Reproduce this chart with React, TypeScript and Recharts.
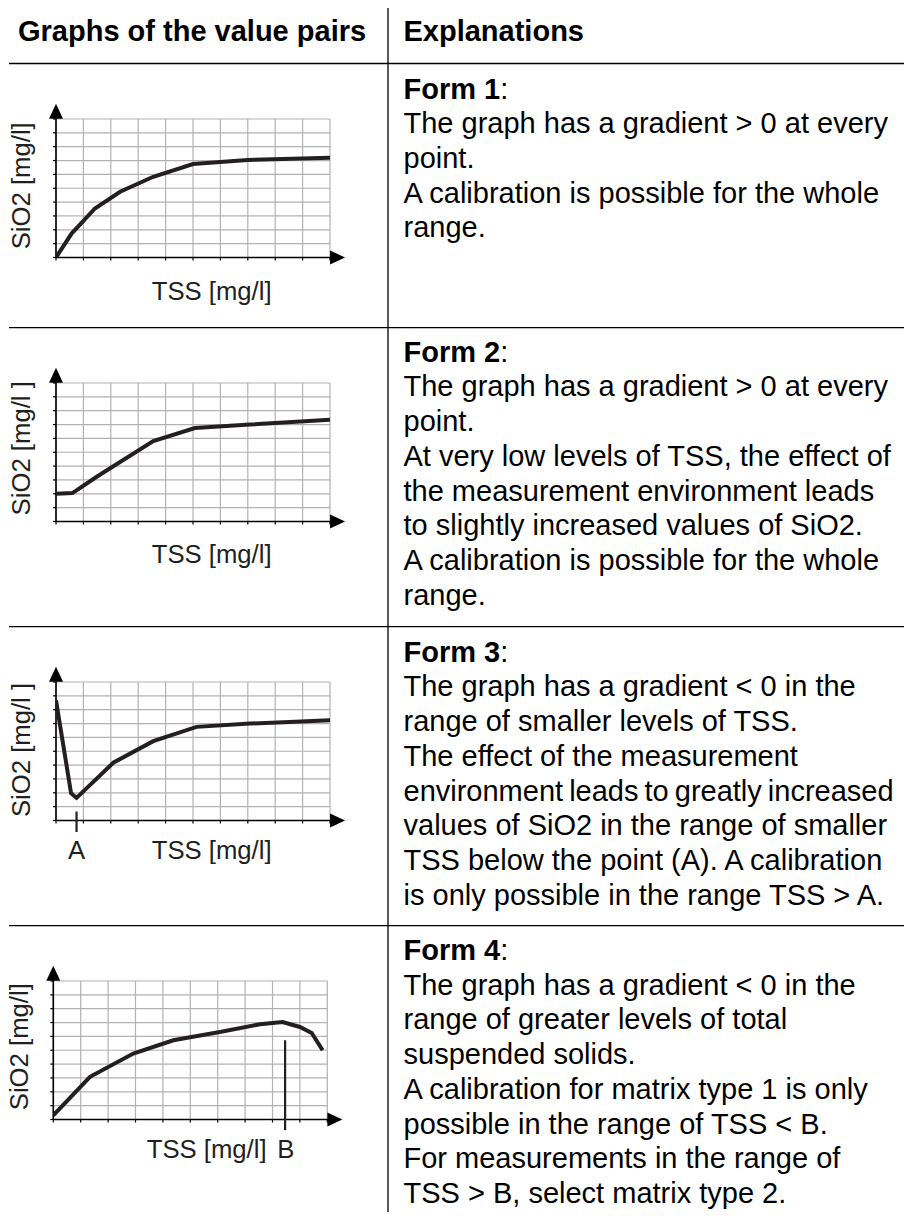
import React from 'react';
import { LineChart, Line, XAxis, YAxis, CartesianGrid, ReferenceLine } from 'recharts';

const FONT = '"Liberation Sans", Arial, Helvetica, sans-serif';

// grid ticks (0..10 units on both axes)
const gridTicks = [0, 1, 2, 3, 4, 5, 6, 7, 8, 9, 10];

// Form 1
const form1Tss = [0, 0.57, 1.42, 2.34, 3.55, 5.0, 7.0, 10];
const form1SiO2 = [0, 1.73, 3.54, 4.75, 5.83, 6.75, 7.04, 7.2];
// Form 2
const form2Tss = [0, 0.6, 1.5, 3.55, 5.07, 7.08, 10];
const form2SiO2 = [2.0, 2.05, 3.25, 5.8, 6.75, 7.0, 7.35];
// Form 3
const form3Tss = [0, 0.55, 0.75, 2.09, 3.55, 5.13, 7.08, 10];
const form3SiO2 = [8.68, 1.97, 1.63, 4.17, 5.73, 6.76, 7.0, 7.24];
// Form 4
const form4Tss = [0, 1.34, 2.92, 4.38, 6.08, 7.54, 8.37, 9.0, 9.43, 9.83];
const form4SiO2 = [0.3, 3.08, 4.76, 5.72, 6.32, 6.88, 7.04, 6.68, 6.25, 5.0];

// marker points
const pointA = { x: 0.75, y1: 0.65, y2: -0.83 };
const pointB = { x: 8.46, y1: 5.72, y2: -0.77 };

// axis arrow ends (in data units)
const xArrowEnd = 10.55;
const yArrowEnd = 11.1;

const headerTexts = ['Graphs of the value pairs', 'Explanations'];

const form1Lines = [
  'The graph has a gradient > 0 at every',
  'point.',
  'A calibration is possible for the whole',
  'range.',
];
const form2Lines = [
  'The graph has a gradient > 0 at every',
  'point.',
  'At very low levels of TSS, the effect of',
  'the measurement environment leads',
  'to slightly increased values of SiO2.',
  'A calibration is possible for the whole',
  'range.',
];
const form3Lines = [
  'The graph has a gradient < 0 in the',
  'range of smaller levels of TSS.',
  'The effect of the measurement',
  'environment leads to greatly increased',
  'values of SiO2 in the range of smaller',
  'TSS below the point (A). A calibration',
  'is only possible in the range TSS > A.',
];
const form4Lines = [
  'The graph has a gradient < 0 in the',
  'range of greater levels of total',
  'suspended solids.',
  'A calibration for matrix type 1 is only',
  'possible in the range of TSS < B.',
  'For measurements in the range of',
  'TSS > B, select matrix type 2.',
];

const PLOT_W = 274;
const PLOT_H = 138.5;
const PAD_TOP = 22;
const PAD_BOTTOM = 22;
const AXIS_SIZE = 10;
const CHART_W = 380;

function ArrowShape(props: any) {
  const { x1, y1, x2, y2 } = props;
  const dx = x2 - x1;
  const dy = y2 - y1;
  const len = Math.hypot(dx, dy) || 1;
  const ux = dx / len;
  const uy = dy / len;
  const head = 15;
  const half = 7;
  const bx = x2 - ux * head;
  const by = y2 - uy * head;
  const px = -uy;
  const py = ux;
  return (
    <g>
      <line x1={x1} y1={y1} x2={bx + ux * 2} y2={by + uy * 2} stroke="#000" strokeWidth={1.6} />
      <polygon
        points={`${x2},${y2} ${bx + px * half},${by + py * half} ${bx - px * half},${by - py * half}`}
        fill="#000"
      />
    </g>
  );
}

function MarkerShape(props: any) {
  const { x1, y1, x2, y2 } = props;
  return <line x1={x1} y1={y1} x2={x2} y2={y2} stroke="#231f20" strokeWidth={2.2} />;
}

const emptyTick = () => '';

type ChartProps = {
  tss: number[];
  sio2: number[];
  gridTop: number;
  gridLeft: number;
  marker?: { x: number; y1: number; y2: number };
};

function FormChart({ tss, sio2, gridTop, gridLeft, marker }: ChartProps) {
  const data = tss.map((t, i) => ({ tss: t, sio2: sio2[i] }));
  const height = PAD_TOP + PLOT_H + PAD_BOTTOM;
  return (
    <div style={{ position: 'absolute', left: 0, top: gridTop - PAD_TOP, width: CHART_W, height }}>
      <LineChart
        width={CHART_W}
        height={height}
        data={data}
        margin={{
          top: PAD_TOP,
          bottom: PAD_BOTTOM - AXIS_SIZE,
          left: gridLeft - AXIS_SIZE,
          right: CHART_W - gridLeft - PLOT_W,
        }}
      >
        <CartesianGrid stroke="#b2b2b2" strokeWidth={1.2} />
        <XAxis
          type="number"
          dataKey="tss"
          domain={[0, 10]}
          ticks={gridTicks}
          interval={0}
          allowDataOverflow
          height={AXIS_SIZE}
          axisLine={false}
          tickLine={{ stroke: '#000', strokeWidth: 1.2 }}
          tickSize={3}
          tickFormatter={emptyTick}
          tick={{ fontSize: 1 }}
        />
        <YAxis
          type="number"
          domain={[0, 10]}
          ticks={gridTicks}
          interval={0}
          allowDataOverflow
          width={AXIS_SIZE}
          axisLine={false}
          tickLine={{ stroke: '#000', strokeWidth: 1.2 }}
          tickSize={3}
          tickFormatter={emptyTick}
          tick={{ fontSize: 1 }}
        />
        <ReferenceLine
          segment={[{ x: 0, y: 0 }, { x: xArrowEnd, y: 0 }]}
          ifOverflow="visible"
          shape={ArrowShape}
        />
        <ReferenceLine
          segment={[{ x: 0, y: 0 }, { x: 0, y: yArrowEnd }]}
          ifOverflow="visible"
          shape={ArrowShape}
        />
        {marker && (
          <ReferenceLine
            segment={[{ x: marker.x, y: marker.y1 }, { x: marker.x, y: marker.y2 }]}
            ifOverflow="visible"
            shape={MarkerShape}
          />
        )}
        <Line
          type="linear"
          dataKey="sio2"
          stroke="#231f20"
          strokeWidth={4}
          dot={false}
          activeDot={false}
          isAnimationActive={false}
        />
      </LineChart>
    </div>
  );
}

const BODY_SIZE = 29;
const LINE_H = 34.7;
const TEXT_X = 403.5;

function Explanation({ title, lines, baseline }: { title: string; lines: string[]; baseline: number }) {
  return (
    <g fontFamily={FONT} fontSize={BODY_SIZE} fill="#000">
      <text x={TEXT_X} y={baseline}>
        <tspan fontWeight="bold">{title}</tspan>
        <tspan>:</tspan>
      </text>
      {lines.map((l, i) => (
        <text
          key={i}
          x={TEXT_X}
          y={baseline + (i + 1) * LINE_H}
          wordSpacing={l.startsWith('environment') ? -2 : 0}
        >
          {l}
        </text>
      ))}
    </g>
  );
}

const LABEL_SIZE = 25.7;

export default function App() {
  const hLines = [63.5, 327.7, 626.7, 925.7];
  return (
    <div style={{ position: 'absolute', left: 0, top: 0, width: 904, height: 1216, background: '#fff' }}>
      <svg width={904} height={1216} style={{ position: 'absolute', left: 0, top: 0 }}>
        {/* table lines */}
        <line x1={388} y1={8} x2={388} y2={1212} stroke="#000" strokeWidth={1.3} />
        {hLines.map((y) => (
          <line key={y} x1={9} y1={y} x2={904} y2={y} stroke="#000" strokeWidth={1.3} />
        ))}
        {/* header */}
        <text x={18} y={41} fontFamily={FONT} fontSize={BODY_SIZE} fontWeight="bold">
          {headerTexts[0]}
        </text>
        <text x={TEXT_X} y={41} fontFamily={FONT} fontSize={BODY_SIZE} fontWeight="bold">
          {headerTexts[1]}
        </text>
        <Explanation title="Form 1" lines={form1Lines} baseline={98.6} />
        <Explanation title="Form 2" lines={form2Lines} baseline={361.7} />
        <Explanation title="Form 3" lines={form3Lines} baseline={661.7} />
        <Explanation title="Form 4" lines={form4Lines} baseline={960} />

        {/* axis titles */}
        <g fontFamily={FONT} fontSize={LABEL_SIZE} fill="#231f20">
          <text transform="translate(30,185.8) rotate(-90)" textAnchor="middle">SiO2 [mg/l]</text>
          <text x={151.7} y={300}>TSS [mg/l]</text>

          <text transform="translate(30,448.3) rotate(-90)" textAnchor="middle">SiO2 [mg/l ]</text>
          <text x={151.7} y={563.3}>TSS [mg/l]</text>

          <text transform="translate(30,750) rotate(-90)" textAnchor="middle">SiO2 [mg/l ]</text>
          <text x={76.5} y={859.3} textAnchor="middle">A</text>
          <text x={151.7} y={859.3}>TSS [mg/l]</text>

          <text transform="translate(28,1046.7) rotate(-90)" textAnchor="middle">SiO2 [mg/l]</text>
          <text x={146.7} y={1158.3}>TSS [mg/l]</text>
          <text x={277.3} y={1158.3}>B</text>
        </g>
      </svg>

      <FormChart tss={form1Tss} sio2={form1SiO2} gridTop={119} gridLeft={56} />
      <FormChart tss={form2Tss} sio2={form2SiO2} gridTop={383.3} gridLeft={56} />
      <FormChart tss={form3Tss} sio2={form3SiO2} gridTop={681.7} gridLeft={56} marker={pointA} />
      <FormChart tss={form4Tss} sio2={form4SiO2} gridTop={980.7} gridLeft={53.3} marker={pointB} />
    </div>
  );
}
